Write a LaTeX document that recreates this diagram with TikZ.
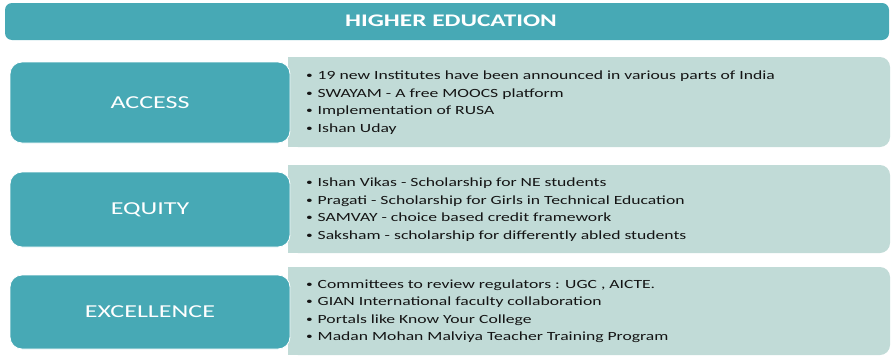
\documentclass[tikz,border=0pt]{standalone}
\usepackage{fontspec}
\setmainfont[FakeStretch=1.43]{Carlito}
\newfontfamily\itemfont[FakeStretch=1.41]{Carlito}
\definecolor{teal}{HTML}{47A9B5}
\definecolor{pale}{HTML}{C1DBD7}
\definecolor{ink}{HTML}{141414}
\tikzset{
  heading/.style={font=\fontsize{17.7}{20}\selectfont\bfseries, text=white},
  label/.style={font=\fontsize{18.2}{21}\selectfont, text=white},
  item/.style={font=\itemfont\fontsize{12.5}{15}\selectfont, text=ink, anchor=base west, inner sep=0pt},
  bar/.style={fill=teal, rounded corners=7pt},
  catbox/.style={fill=teal, draw=white, line width=0.8pt, rounded corners=12pt},
  panel/.style={fill=pale, rounded corners=10pt},
}
\newcommand{\bul}{\makebox[11.5pt][l]{\fontsize{9.5}{10}\selectfont\raisebox{0.8pt}{\textbullet}}}
\begin{document}
\begin{tikzpicture}[x=1pt,y=-1pt]
\useasboundingbox (0,0) rectangle (891,356);

% title bar
\fill[bar] (5,3) rectangle (889,40);
\node[heading] (title) at (451,21) {HIGHER EDUCATION};

% right-hand panels (square left edge, rounded right edge)
\foreach \ya/\yb in {57/147, 165/253, 267/355}{
  \fill[panel] (288,\ya) rectangle (890,\yb);
  \fill[pale] (288,\ya) rectangle (310,\yb);
}

% category boxes
\draw[catbox] (10,62) rectangle (290,143);
\node[label] (access) at (150,102.5) {ACCESS};
\draw[catbox] (10,172) rectangle (290,247);
\node[label] (equity) at (150,209.5) {EQUITY};
\draw[catbox] (10,275) rectangle (290,349);
\node[label] (excellence) at (150,312) {EXCELLENCE};

% ACCESS items
\node[item] (a1) at (306,79) {\bul 19 new Institutes have been announced in various parts of India};
\node[item] (a2) at (306,97) {\bul SWAYAM - A free MOOCS platform};
\node[item] (a3) at (306,114.5) {\bul Implementation of RUSA};
\node[item] (a4) at (306,132) {\bul Ishan Uday};

% EQUITY items
\node[item] (e1) at (306,186.5) {\bul Ishan Vikas - Scholarship for NE students};
\node[item] (e2) at (306,204) {\bul Pragati - Scholarship for Girls in Technical Education};
\node[item] (e3) at (306,221.5) {\bul SAMVAY - choice based credit framework};
\node[item] (e4) at (306,239) {\bul Saksham - scholarship for differently abled students};

% EXCELLENCE items
\node[item] (x1) at (306,288) {\bul Committees to review regulators : UGC , AICTE.};
\node[item] (x2) at (306,305.5) {\bul GIAN International faculty collaboration};
\node[item] (x3) at (306,323) {\bul Portals like Know Your College};
\node[item] (x4) at (306,340.5) {\bul Madan Mohan Malviya Teacher Training Program};
\end{tikzpicture}
\end{document}
